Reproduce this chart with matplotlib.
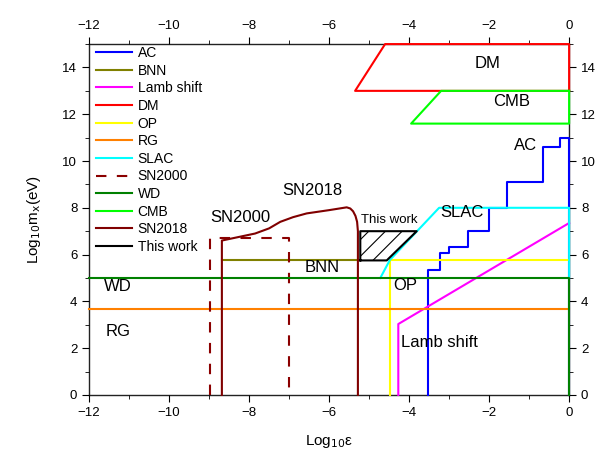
import matplotlib
matplotlib.use("Agg")
import matplotlib.pyplot as plt
from matplotlib.ticker import MultipleLocator

plt.rcParams['font.family'] = ['Liberation Sans', 'DejaVu Sans']
plt.rcParams['hatch.linewidth'] = 0.8

# ---- data (log10 eps, log10 m_x) ----
ac_x = [-3.52, -3.52, -3.22, -3.22, -3.0, -3.0, -2.52, -2.52, -2.0, -2.0, -1.56, -1.56, -0.65, -0.65, -0.22, -0.22, 0.0, 0.0]
ac_y = [0.0, 5.34, 5.34, 6.08, 6.08, 6.34, 6.34, 7.02, 7.02, 8.0, 8.0, 9.12, 9.12, 10.6, 10.6, 11.0, 11.0, 0.0]
bnn_x = [-8.68, -5.22]
bnn_y = [5.77, 5.77]
lamb_x = [-4.27, -4.27, 0.0]
lamb_y = [0.0, 3.03, 7.35]
dm_x = [0.0, -5.35, -4.6, 0.0, 0.0]
dm_y = [13.0, 13.0, 15.0, 15.0, 13.0]
op_x = [-4.49, -4.49, 0.0]
op_y = [0.0, 5.77, 5.77]
rg_x = [-12.0, 0.0]
rg_y = [3.66, 3.66]
slac_x = [-4.72, -4.48, -3.25, 0.0, 0.0]
slac_y = [5.0, 5.77, 8.0, 8.0, 5.0]
sn2000_x = [-8.97, -8.97, -7.0, -7.0]
sn2000_y = [0.0, 6.7, 6.7, 0.0]
wd_x = [-12.0, 0.0, 0.0]
wd_y = [5.0, 5.0, 0.0]
cmb_x = [0.0, -3.2, -3.95, 0.0, 0.0]
cmb_y = [13.0, 13.0, 11.6, 11.6, 13.0]
sn2018_x = [-8.68, -8.68, -7.85, -7.5, -7.22, -6.9, -6.56, -6.0, -5.56, -5.47, -5.4, -5.34, -5.3, -5.28, -5.28]
sn2018_y = [0.0, 6.6, 6.9, 7.12, 7.4, 7.6, 7.76, 7.9, 8.02, 7.97, 7.85, 7.65, 7.4, 7.0, 0.0]
tw_x = [-5.22, -5.22, -3.81, -4.56, -5.22]
tw_y = [5.75, 7.0, 7.0, 5.75, 5.75]

fig = plt.figure(figsize=(6.10, 4.69), dpi=100)
ax = fig.add_axes([0.146, 0.158, 0.787, 0.748])

lw = 1.5
ax.plot(ac_x, ac_y, color='#0000ff', lw=lw, label='AC', clip_on=False)
ax.plot(bnn_x, bnn_y, color='#808000', lw=lw, label='BNN', clip_on=False)
ax.plot(lamb_x, lamb_y, color='#ff00ff', lw=lw, label='Lamb shift', clip_on=False)
ax.plot(dm_x, dm_y, color='#ff0000', lw=lw, label='DM', clip_on=False)
ax.plot(op_x, op_y, color='#ffff00', lw=lw, label='OP', clip_on=False)
ax.plot(rg_x, rg_y, color='#ff8000', lw=lw, label='RG', clip_on=False)
ax.plot(slac_x, slac_y, color='#00ffff', lw=lw, label='SLAC', clip_on=False)
ax.plot(sn2000_x, sn2000_y, color='#8b0000', lw=lw, ls=(0, (5, 5)), label='SN2000', clip_on=False)
ax.plot(wd_x, wd_y, color='#008000', lw=lw, label='WD', clip_on=False)
ax.plot(cmb_x, cmb_y, color='#00ff00', lw=lw, label='CMB', clip_on=False)
ax.plot(sn2018_x, sn2018_y, color='#800000', lw=lw, label='SN2018', clip_on=False)
ax.fill(tw_x, tw_y, facecolor='none', edgecolor='black', hatch='//', lw=0)
ax.plot(tw_x, tw_y, color='black', lw=lw, label='This work')

ax.set_xlim(-12, 0)
ax.set_ylim(0, 15)
ax.xaxis.set_major_locator(MultipleLocator(2))
ax.xaxis.set_minor_locator(MultipleLocator(1))
ax.yaxis.set_major_locator(MultipleLocator(2))
ax.yaxis.set_minor_locator(MultipleLocator(1))
ax.tick_params(which='both', direction='out', top=True, right=True,
               labeltop=True, labelright=True, labelsize=9.5, colors='black')
ax.tick_params(which='major', length=5)
ax.tick_params(which='minor', length=3)
for s in ax.spines.values():
    s.set_linewidth(1.0)
    s.set_color('#222222')
    s.set_zorder(0)

ax.set_xlabel('Log$_{10}$ε', fontsize=11, labelpad=10)
ax.set_ylabel('Log$_{10}$m$_{\\mathrm{x}}$(eV)', fontsize=11, labelpad=14)

fs = 12
ax.text(-2.05, 14.15, 'DM', fontsize=fs, ha='center', va='center')
ax.text(-1.43, 12.56, 'CMB', fontsize=fs, ha='center', va='center')
ax.text(-1.08, 10.68, 'AC', fontsize=fs, ha='center', va='center')
ax.text(-2.68, 7.78, 'SLAC', fontsize=fs, ha='center', va='center')
ax.text(-4.5, 7.48, 'This work', fontsize=9.5, ha='center', va='center')
ax.text(-6.43, 8.76, 'SN2018', fontsize=fs, ha='center', va='center')
ax.text(-8.23, 7.6, 'SN2000', fontsize=fs, ha='center', va='center')
ax.text(-6.18, 5.43, 'BNN', fontsize=fs, ha='center', va='center')
ax.text(-11.28, 4.62, 'WD', fontsize=fs, ha='center', va='center')
ax.text(-11.28, 2.73, 'RG', fontsize=fs, ha='center', va='center')
ax.text(-4.1, 4.66, 'OP', fontsize=fs, ha='center', va='center')
ax.text(-3.23, 2.26, 'Lamb shift', fontsize=fs, ha='center', va='center')

ax.legend(loc='upper left', frameon=False, fontsize=10, handlelength=2.6,
          labelspacing=0.26, borderaxespad=0.1, handletextpad=0.4,
          bbox_to_anchor=(0.0, 1.014))

fig.savefig('out.png', dpi=100)
